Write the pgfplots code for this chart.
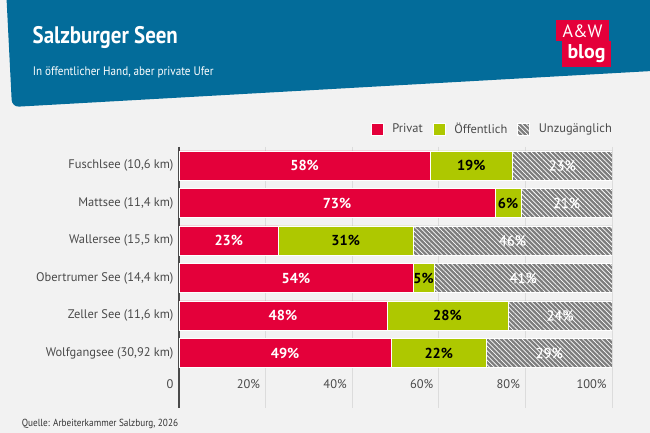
\documentclass[border=0pt]{standalone}
\usepackage{pgfplots}
\pgfplotsset{compat=1.18}
\usepackage{pgfplotstable}
\usetikzlibrary{patterns.meta}
\usepackage{fontspec}
\setmainfont{PT Sans}
\newfontfamily\narrow[FakeStretch=0.9]{PT Sans}
\newfontfamily\narrowtitle[FakeStretch=0.875]{PT Sans}
\newfontfamily\semib[FakeBold=0.6]{PT Sans}
\definecolor{bg}{HTML}{F2F2F2}
\definecolor{banner}{HTML}{036C9A}
\definecolor{rot}{HTML}{E4003A}
\definecolor{gruen}{HTML}{AEC800}
\definecolor{grau}{HTML}{7D7D7D}
\definecolor{txt}{HTML}{4A4A4A}
\definecolor{gridc}{HTML}{DCDCDC}

\pgfplotstableread{
i v
0 58
1 73
2 23
3 54
4 48
5 49
}\privat
\pgfplotstableread{
i v
0 19
1 6
2 31
3 5
4 28
5 22
}\oeff
\pgfplotstableread{
i v
0 23
1 21
2 46
3 41
4 24
5 29
}\unzu

\begin{document}
\begin{tikzpicture}[x=1bp,y=1bp]
\path[use as bounding box] (0,0) rectangle (650,433);
\fill[bg] (0,0) rectangle (650,433);
\begin{scope}
\clip (0,0) rectangle (650,433);
\fill[banner, rounded corners=7bp] (6,445) -- (12,433-107) -- (670,433-70) -- (670,445) -- cycle;
\end{scope}
% logo
\fill[rot] (556,433-41.5) rectangle (609,433-20.5);
\fill[rot] (562,433-67) rectangle (611,433-41.5);
\node[text=white, font=\fontsize{18}{18}\selectfont, inner sep=0] at (582.5,433-31.5) {A\&W};
\node[text=white, font=\bfseries\fontsize{20}{20}\selectfont, inner sep=0] at (586.5,433-53.5) {blog};
% titles
\node[anchor=base west, text=white, font=\narrowtitle\bfseries\fontsize{24}{24}\selectfont, inner sep=0] at (32.5,433-43.3) {Salzburger Seen};
\node[anchor=base west, text=white, font=\narrow\fontsize{12.4}{12.4}\selectfont, inner sep=0] at (32.7,433-76) {In öffentlicher Hand, aber private Ufer};
\node[anchor=base west, text=black!80, font=\narrow\fontsize{10.3}{10.3}\selectfont, inner sep=0] at (21.6,433-426.5) {Quelle: Arbeiterkammer Salzburg, 2026};

\begin{axis}[
  at={(179bp,25bp)}, anchor=south west,
  scale only axis, width=433bp, height=261bp,
  xbar stacked, bar width=29bp,
  xmin=0, xmax=100,
  ymin=-0.493, ymax=6.467, y dir=reverse,
  ytick={0,...,5},
  yticklabels={Fuschlsee (10{,}6 km), Mattsee (11{,}4 km), Wallersee (15{,}5 km), Obertrumer See (14{,}4 km), Zeller See (11{,}6 km), Wolfgangsee (30{,}92 km)},
  xtick={20,40,60,80,100},
  xticklabels={20\%,40\%,60\%,80\%,100\%},
  extra x ticks={0}, extra x tick labels={0},
  extra x tick style={grid style={draw=txt, line width=1.4bp}},
  xmajorgrids, grid style={draw=gridc, line width=0.8bp},
  major tick length=0,
  axis line style={draw=none},
  tick label style={font=\fontsize{12.5}{12.5}\selectfont, text=txt},
  xticklabel style={anchor=east, xshift=-2bp, yshift=23.5bp},
  yticklabel style={xshift=-2bp},
  /pgf/number format/assume math mode=true,
  legend style={at={(1,1)}, anchor=south east, xshift=2bp, yshift=10bp, draw=none, fill=none,
    legend columns=3, font=\fontsize{12.5}{12.5}\selectfont, text=txt, inner sep=0pt,
    /tikz/every odd column/.append style={column sep=7bp},
    /tikz/every even column/.append style={column sep=8bp}},
  legend image code/.code={\draw[#1] (0bp,-6bp) rectangle (12bp,6bp);},
  point meta=explicit,
  nodes near coords={\pgfmathprintnumber{\pgfplotspointmeta}\%},
  every node near coord/.append style={anchor=center},
]
\addplot[fill=rot, draw=white, line width=0.5bp,
  nodes near coords style={text=white, font=\bfseries\fontsize{14.5}{14.5}\selectfont}]
  table[x=v, y=i, meta=v] {\privat};
\addlegendentry{Privat}
\addplot[fill=gruen, draw=white, line width=0.5bp,
  nodes near coords style={text=black, font=\bfseries\fontsize{14.5}{14.5}\selectfont}]
  table[x=v, y=i, meta=v] {\oeff};
\addlegendentry{Öffentlich}
\addplot[fill=grau, draw=white, line width=0.5bp,
  postaction={pattern={Lines[angle=-45,distance=3.3bp,line width=0.75bp]}, pattern color=white},
  nodes near coords style={text=white, font=\semib\fontsize{14.5}{14.5}\selectfont}]
  table[x=v, y=i, meta=v] {\unzu};
\addlegendentry{Unzugänglich}
\end{axis}
\end{tikzpicture}
\end{document}
